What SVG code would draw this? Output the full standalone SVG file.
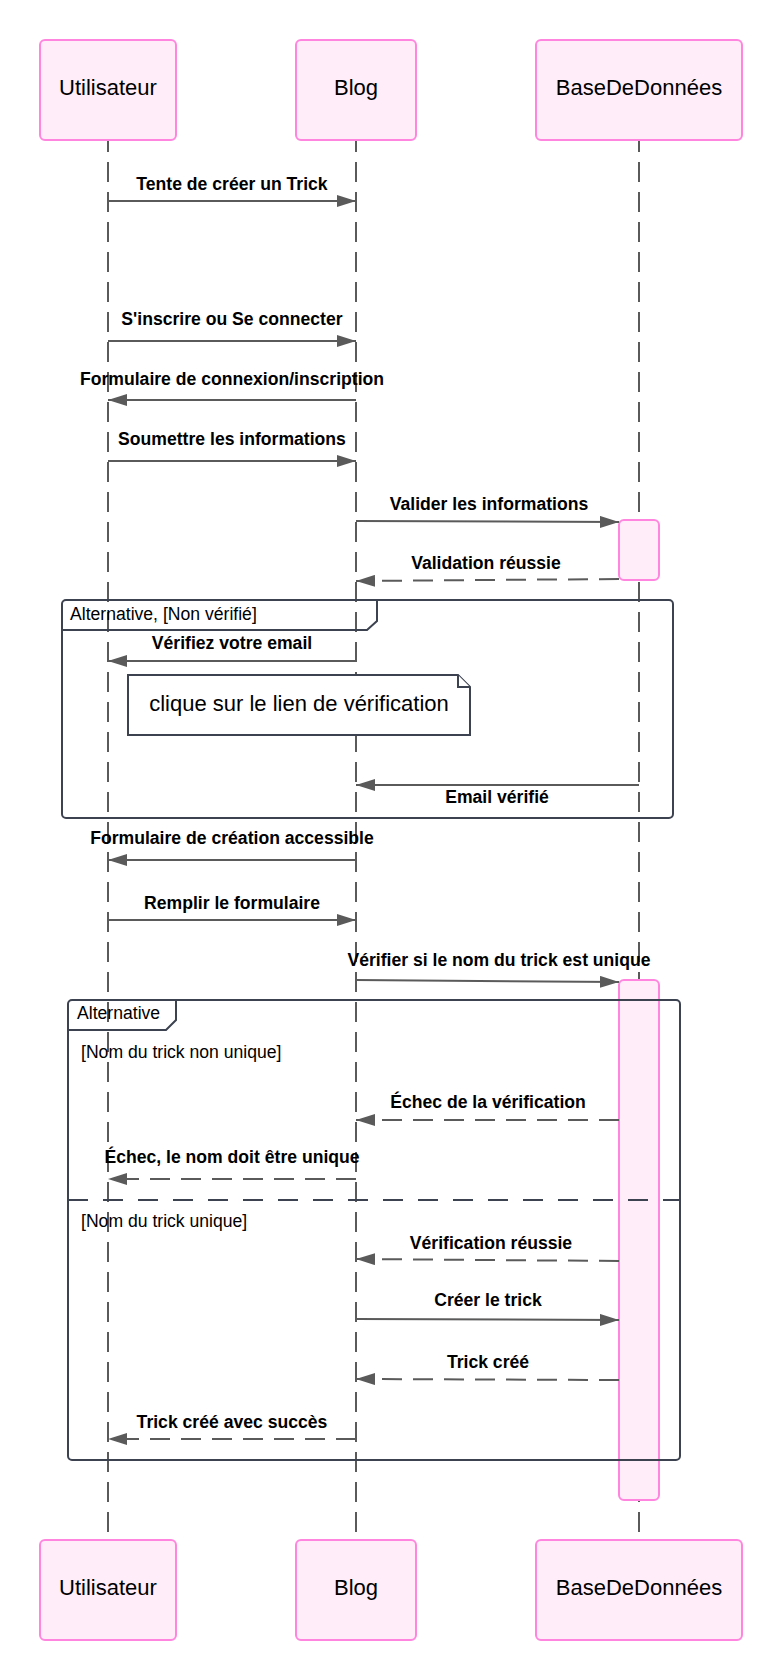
<svg xmlns="http://www.w3.org/2000/svg" width="784" height="1680" viewBox="0 0 784 1680">
<style>
.actor{fill:#FFEEF9;stroke:#FF85DE;stroke-width:2}
.atext{font-family:"Liberation Sans",Arial,sans-serif;font-size:22px;fill:#000;text-anchor:middle}
.life{stroke:#5a5a5a;stroke-width:2;stroke-dasharray:20 10;fill:none}
.act{fill:#FFEEF9;stroke:#FF85DE;stroke-width:2}
.msg{stroke:#5a5a5a;stroke-width:2;fill:none}
.dash{stroke-dasharray:20 11}
.mtext{font-family:"Liberation Sans",Arial,sans-serif;font-size:17.6px;font-weight:bold;fill:#000;text-anchor:middle}
.frame{fill:none;stroke:#3c4250;stroke-width:2}
.ftext{font-family:"Liberation Sans",Arial,sans-serif;font-size:17.6px;fill:#000}
.note{fill:#fff;stroke:#3c4250;stroke-width:2}
.ntext{font-family:"Liberation Sans",Arial,sans-serif;font-size:22px;fill:#000;text-anchor:middle}
</style>
<defs>
<marker id="ah" viewBox="0 0 19 12" refX="19" refY="6" markerWidth="19" markerHeight="12" markerUnits="userSpaceOnUse" orient="auto">
<path d="M0,0 L19,6 L0,12 z" fill="#5a5a5a"/>
</marker>
</defs>

<g id="lifelines">
<line class="life" x1="108" y1="140" x2="108" y2="1540" stroke-dashoffset="8"/>
<line class="life" x1="356" y1="140" x2="356" y2="1540" stroke-dashoffset="8"/>
<line class="life" x1="639" y1="140" x2="639" y2="1540" stroke-dashoffset="8"/>
</g>

<g id="actor-utilisateur-top"><rect class="actor" x="40" y="40" width="136" height="100" rx="5"/><text class="atext" x="108" y="95">Utilisateur</text></g>
<g id="actor-blog-top"><rect class="actor" x="296" y="40" width="120" height="100" rx="5"/><text class="atext" x="356" y="95">Blog</text></g>
<g id="actor-bdd-top"><rect class="actor" x="536" y="40" width="206" height="100" rx="5"/><text class="atext" x="639" y="95">BaseDeDonnées</text></g>

<g id="activations">
<rect id="act1" class="act" x="619" y="520" width="40" height="60" rx="5"/>
<rect id="act2" class="act" x="619" y="980" width="40" height="520" rx="5"/>
</g>

<g id="alt1">
<rect class="frame" x="62" y="600" width="611" height="218" rx="4"/>
<path class="frame" d="M62,630 L367,630 L377,621 L377,600"/>
<text class="ftext" x="70" y="620">Alternative, [Non vérifié]</text>
</g>

<g id="alt2">
<rect class="frame" x="68" y="1000" width="612" height="460" rx="4"/>
<path class="frame" d="M68,1030 L166,1030 L176,1020 L176,1000"/>
<text class="ftext" x="77" y="1019">Alternative</text>
<text class="ftext" x="81" y="1058">[Nom du trick non unique]</text>
<line class="frame" x1="68" y1="1200" x2="680" y2="1200" stroke-dasharray="20 15"/>
<text class="ftext" x="81" y="1227">[Nom du trick unique]</text>
</g>

<g id="note">
<path class="note" d="M128,675 L458,675 L470,687 L470,735 L128,735 Z"/>
<path class="note" d="M458,675 L458,687 L470,687"/>
<text class="ntext" x="299" y="711">clique sur le lien de vérification</text>
</g>

<g id="connectors">
<line class="msg" x1="108" y1="201" x2="356" y2="201" marker-end="url(#ah)"/>
<text class="mtext" x="232" y="190">Tente de créer un Trick</text>

<line class="msg" x1="108" y1="341" x2="356" y2="341" marker-end="url(#ah)"/>
<text class="mtext" x="232" y="325">S'inscrire ou Se connecter</text>

<line class="msg" x1="356" y1="400" x2="108" y2="400" marker-end="url(#ah)"/>
<text class="mtext" x="232" y="385">Formulaire de connexion/inscription</text>

<line class="msg" x1="108" y1="461" x2="356" y2="461" marker-end="url(#ah)"/>
<text class="mtext" x="232" y="445">Soumettre les informations</text>

<line class="msg" x1="356" y1="521" x2="619" y2="522" marker-end="url(#ah)"/>
<text class="mtext" x="489" y="510">Valider les informations</text>

<line class="msg dash" x1="619" y1="579" x2="356" y2="581" marker-end="url(#ah)"/>
<text class="mtext" x="486" y="569">Validation réussie</text>

<line class="msg" x1="356" y1="661" x2="108" y2="661" marker-end="url(#ah)"/>
<text class="mtext" x="232" y="649">Vérifiez votre email</text>

<line class="msg" x1="639" y1="785" x2="356" y2="785" marker-end="url(#ah)"/>
<text class="mtext" x="497" y="803">Email vérifié</text>

<line class="msg" x1="356" y1="860" x2="108" y2="860" marker-end="url(#ah)"/>
<text class="mtext" x="232" y="844">Formulaire de création accessible</text>

<line class="msg" x1="108" y1="920" x2="356" y2="920" marker-end="url(#ah)"/>
<text class="mtext" x="232" y="909">Remplir le formulaire</text>

<line class="msg" x1="356" y1="980" x2="619" y2="982" marker-end="url(#ah)"/>
<text class="mtext" x="499" y="966">Vérifier si le nom du trick est unique</text>

<line class="msg dash" x1="619" y1="1120" x2="356" y2="1120" marker-end="url(#ah)"/>
<text class="mtext" x="488" y="1108">Échec de la vérification</text>

<line class="msg dash" x1="356" y1="1179" x2="108" y2="1179" marker-end="url(#ah)"/>
<text class="mtext" x="232" y="1163">Échec, le nom doit être unique</text>

<line class="msg dash" x1="619" y1="1261" x2="356" y2="1259" marker-end="url(#ah)"/>
<text class="mtext" x="491" y="1249">Vérification réussie</text>

<line class="msg" x1="356" y1="1319" x2="619" y2="1320" marker-end="url(#ah)"/>
<text class="mtext" x="488" y="1306">Créer le trick</text>

<line class="msg dash" x1="619" y1="1380" x2="356" y2="1379" marker-end="url(#ah)"/>
<text class="mtext" x="488" y="1368">Trick créé</text>

<line class="msg dash" x1="356" y1="1439" x2="108" y2="1439" marker-end="url(#ah)"/>
<text class="mtext" x="232" y="1428">Trick créé avec succès</text>
</g>

<g id="actor-utilisateur-bottom"><rect class="actor" x="40" y="1540" width="136" height="100" rx="5"/><text class="atext" x="108" y="1595">Utilisateur</text></g>
<g id="actor-blog-bottom"><rect class="actor" x="296" y="1540" width="120" height="100" rx="5"/><text class="atext" x="356" y="1595">Blog</text></g>
<g id="actor-bdd-bottom"><rect class="actor" x="536" y="1540" width="206" height="100" rx="5"/><text class="atext" x="639" y="1595">BaseDeDonnées</text></g>
</svg>
